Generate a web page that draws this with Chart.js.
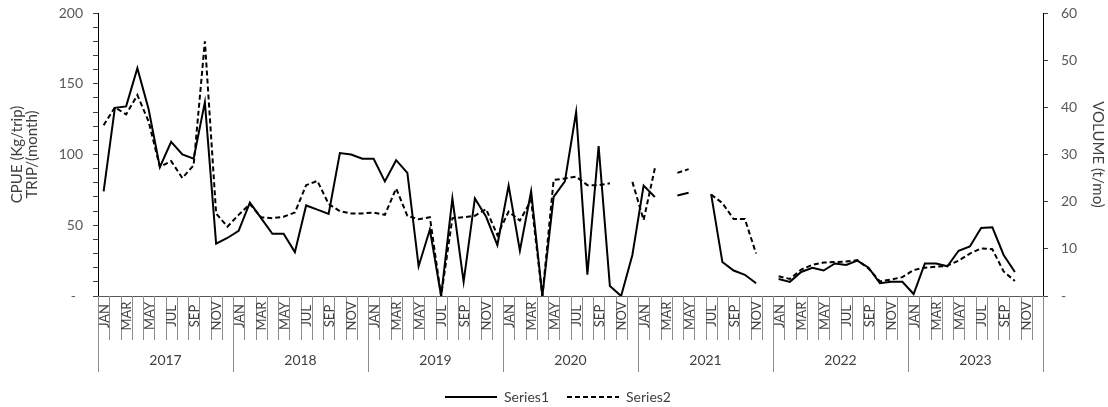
<!DOCTYPE html>
<html>
<head>
<meta charset="utf-8">
<script src="https://cdn.jsdelivr.net/npm/chart.js@4.4.1/dist/chart.umd.min.js"></script>
<style>
  html, body { margin: 0; padding: 0; background: #fff; }
  #wrap { width: 1108px; height: 407px; }
</style>
</head>
<body>
<div id="wrap"><canvas id="chart" width="1108" height="407"></canvas></div>
<script>
// --- data ---
const years = ['2017', '2018', '2019', '2020', '2021', '2022', '2023'];
const months = ['JAN', 'FEB', 'MAR', 'APR', 'MAY', 'JUN', 'JUL', 'AUG', 'SEP', 'OCT', 'NOV', 'DEC'];
const monthTickLabels = ['JAN', '', 'MAR', '', 'MAY', '', 'JUL', '', 'SEP', '', 'NOV', ''];

// CPUE (left axis), one row per year
const series1 = [
  74, 133, 134, 161, 132, 91, 109, 100, 97, 137, 37, 41,
  46, 66, 55, 44, 44, 31, 64, 61, 58, 101, 100, 97,
  97, 81, 96, 87, 21, 47, 0, 69, 10, 69, 56, 36,
  78, 32, 74, 0, 70, 81, 130, 15, 106, 7, 0, 29,
  78, 70, null, 71, 73, null, 72, 24, 18, 15, 9, null,
  12, 10, 17, 20, 18, 23, 22, 25, 20, 9, 10, 10,
  1.4, 23, 23, 21, 32, 35, 48, 48.5, 29, 17, null, null
];

// VOLUME (right axis)
const series2 = [
  36.2, 40, 38.5, 42.6, 37, 27.4, 28.6, 25, 27.7, 54, 17.5, 14.7,
  17.2, 19.5, 16.7, 16.5, 16.8, 17.7, 23.5, 24.4, 19.5, 18, 17.5, 17.5,
  17.7, 17.2, 22.8, 17, 16.3, 16.7, 0, 16.5, 16.7, 17, 18.4, 12.9,
  17.9, 16, 20.3, 0, 24.6, 24.9, 25.3, 23.5, 23.5, 23.9, null, 24.2,
  16.1, 27.1, null, 26.1, 26.9, null, 21.5, 19.7, 16.3, 16.3, 9.0, null,
  4.2, 3.6, 5.6, 6.6, 7.1, 7.2, 7.3, 7.6, 5.8, 3.1, 3.5, 4.0,
  5.5, 6.0, 6.2, 6.4, 7.5, 9.0, 10.1, 9.9, 5.2, 3.2, null, null
];

const leftTickValues = [0, 50, 100, 150, 200];
const leftTickLabels = ['-  ', '50', '100', '150', '200'];
const rightTickValues = [0, 10, 20, 30, 40, 50, 60];
const rightTickLabels = ['-', '10', '20', '30', '40', '50', '60'];

const categories = years.flatMap(y => months.map(m => m + ' ' + y));

Chart.defaults.font.family = 'Lato, "Liberation Sans", sans-serif';
Chart.defaults.color = '#595959';

// month boxes + year row under the plot, placed with the x scale
const xAxisBoxes = {
  id: 'xAxisBoxes',
  afterLayout(chart) {
    // nudge legend to sit where the original one is
    chart.legend.left += 4;
    chart.legend.right += 4;
  },
  afterDraw(chart) {
    const { ctx, chartArea } = chart;
    const x = chart.scales.x;
    const n = categories.length;
    const step = x.getPixelForValue(1) - x.getPixelForValue(0);
    const base = chartArea.bottom;

    ctx.save();
    ctx.strokeStyle = '#8c8c8c';
    ctx.lineWidth = 1;
    for (let i = 0; i <= n; i++) {
      const px = Math.round(x.getPixelForValue(i) - step / 2) + 0.5;
      const len = i % 12 === 0 ? 76 : 44;
      ctx.beginPath();
      ctx.moveTo(px, base);
      ctx.lineTo(px, base + len);
      ctx.stroke();
    }

    ctx.fillStyle = '#404040';
    ctx.textAlign = 'center';
    ctx.textBaseline = 'middle';
    ctx.font = '13px Lato';
    for (let i = 0; i < n; i++) {
      const t = monthTickLabels[i % 12];
      if (!t) continue;
      ctx.save();
      ctx.translate(Math.round(x.getPixelForValue(i)) + 0.5, base + 20);
      ctx.rotate(-Math.PI / 2);
      ctx.fillText(t, 0, 0);
      ctx.restore();
    }

    ctx.font = '14px Lato';
    years.forEach((y, k) => {
      const cx = (x.getPixelForValue(k * 12) + x.getPixelForValue(k * 12 + 11)) / 2;
      ctx.fillText(y, cx, base + 64);
    });
    ctx.restore();
  }
};

new Chart(document.getElementById('chart'), {
  type: 'line',
  data: {
    labels: categories,
    datasets: [
      {
        label: 'Series1',
        data: series1,
        yAxisID: 'y',
        borderColor: '#000000',
        backgroundColor: '#000000',
        borderWidth: 2,
        pointRadius: 0,
        tension: 0
      },
      {
        label: 'Series2',
        data: series2,
        yAxisID: 'y1',
        borderColor: '#000000',
        backgroundColor: '#000000',
        borderWidth: 2,
        borderDash: [5, 3],
        pointRadius: 0,
        tension: 0
      }
    ]
  },
  options: {
    responsive: false,
    animation: false,
    devicePixelRatio: 1,
    layout: { padding: { top: 13, left: 0, right: 0, bottom: -7 } },
    plugins: {
      tooltip: { enabled: false },
      legend: {
        position: 'bottom',
        labels: {
          usePointStyle: true,
          pointStyleWidth: 52,
          boxWidth: 52,
          padding: 18,
          color: '#404040',
          font: { size: 14 },
          generateLabels: (chart) => chart.data.datasets.map((ds, i) => ({
            text: ds.label,
            fillStyle: ds.borderColor,
            strokeStyle: ds.borderColor,
            lineWidth: ds.borderWidth,
            lineDash: ds.borderDash || [],
            pointStyle: 'line',
            fontColor: '#404040',
            hidden: false,
            datasetIndex: i
          }))
        }
      }
    },
    scales: {
      x: {
        type: 'category',
        offset: true,
        grid: { display: false },
        ticks: { display: false },
        border: { display: true, color: '#595959', width: 1 },
        afterFit: (scale) => { scale.height = 76; }
      },
      y: {
        position: 'left',
        min: 0,
        max: 200,
        afterFit: (scale) => {
          scale.width = 98;
          scale.paddingTop = 8;
          scale.paddingBottom = 8;
        },
        afterBuildTicks: (scale) => {
          const t = [];
          for (let v = 0; v <= 200; v += 10) t.push({ value: v });
          scale.ticks = t;
        },
        ticks: {
          autoSkip: false,
          padding: 10,
          font: { size: 14 },
          callback: (v) => {
            const k = leftTickValues.indexOf(v);
            return k >= 0 ? leftTickLabels[k] : '';
          }
        },
        grid: { drawOnChartArea: false, tickLength: 5, color: '#404040' },
        border: { color: '#000000', width: 1 },
        title: {
          display: true,
          text: ['CPUE (Kg/trip)', 'TRIP/(month)'],
          color: '#404040',
          font: { size: 15, lineHeight: 1 },
          padding: { top: 10, bottom: 0 }
        }
      },
      y1: {
        position: 'right',
        min: 0,
        max: 60,
        afterFit: (scale) => {
          scale.width = 65;
          scale.paddingTop = 8;
          scale.paddingBottom = 8;
        },
        ticks: {
          stepSize: 10,
          autoSkip: false,
          padding: 13,
          font: { size: 14 },
          callback: (v) => {
            const k = rightTickValues.indexOf(v);
            return k >= 0 ? rightTickLabels[k] : '';
          }
        },
        grid: { drawOnChartArea: false, tickLength: 5, color: '#404040' },
        border: { color: '#000000', width: 1 },
        title: {
          display: true,
          text: 'VOLUME (t/mo)',
          color: '#404040',
          font: { size: 15, lineHeight: 1 },
          padding: { top: 3, bottom: 0 }
        }
      }
    }
  },
  plugins: [xAxisBoxes]
});
</script>
</body>
</html>
